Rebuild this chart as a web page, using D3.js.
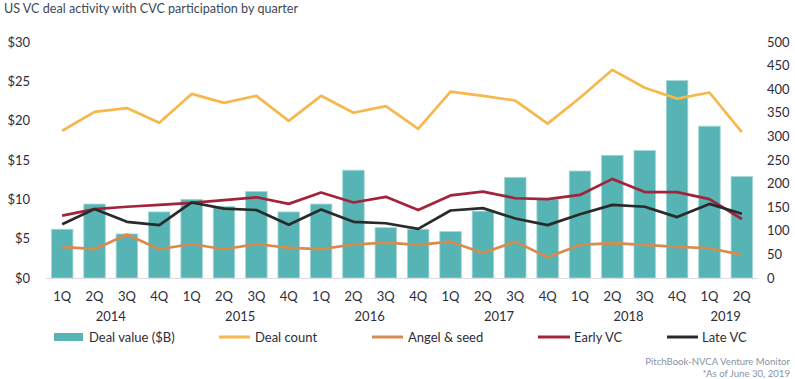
<!DOCTYPE html>
<html>
<head>
<meta charset="utf-8">
<script src="https://cdn.jsdelivr.net/npm/d3@7"></script>
<style>
  html, body { margin: 0; padding: 0; background: #fff; }
  svg { display: block; font-family: Lato, "Open Sans", sans-serif; }
</style>
</head>
<body>
<svg id="chart" width="795" height="379"></svg>
<script>
const quarters = ["1Q","2Q","3Q","4Q","1Q","2Q","3Q","4Q","1Q","2Q","3Q","4Q","1Q","2Q","3Q","4Q","1Q","2Q","3Q","4Q","1Q","2Q"];
const years = ["2014","2015","2016","2017","2018","2019"];
const yearQuarterCounts = [4,4,4,4,4,2];
const dealValue = [6.2,9.4,5.6,8.4,10.0,9.1,11.0,8.4,9.4,13.7,6.4,6.2,5.9,8.5,12.8,10.0,13.6,15.6,16.2,25.1,19.3,12.9];
const dealCount = [312,352,360,329,390,371,386,333,386,350,364,316,395,386,376,327,382,441,403,380,393,309];
const angelSeed = [66,61,92,61,72,61,72,64,61,71,75,70,77,53,77,44,70,74,70,66,63,49];
const earlyVC = [132,146,151,155,159,165,171,157,181,160,172,144,175,183,169,167,176,210,182,182,167,125];
const lateVC = [114,146,119,112,160,147,144,113,145,119,116,104,143,148,126,112,135,155,151,129,157,136];
const leftTicks = [0,5,10,15,20,25,30];
const rightTicks = [0,50,100,150,200,250,300,350,400,450,500];
const seriesNames = ["Deal value ($B)","Deal count","Angel & seed","Early VC","Late VC"];

(function () {
const colors = {
  bar: "#56b4b5", barStroke: "#a6d8d8",
  count: "#f6b84c", angel: "#d98a4f", early: "#a2233a", late: "#2a2a2a"
};

const svg = d3.select("#chart");
const pL = 46, pR = 758, pT = 42, pB = 278;

const x = d3.scaleBand().domain(d3.range(quarters.length)).range([pL, pR])
  .paddingInner(0.335).paddingOuter(0.1675);
const yL = d3.scaleLinear().domain([0, 30]).range([pB, pT]);
const yR = d3.scaleLinear().domain([0, 500]).range([pB, pT]);
const cx = i => x(i) + x.bandwidth() / 2;

// Title
svg.append("text").attr("x", 4).attr("y", 13)
  .attr("font-size", 13).attr("fill", "#3b4858")
  .attr("textLength", 294).attr("lengthAdjust", "spacingAndGlyphs")
  .text("US VC deal activity with CVC participation by quarter");

// Left axis
const axL = svg.append("g").attr("transform", `translate(${pL - 16},0)`)
  .call(d3.axisLeft(yL).tickValues(leftTicks).tickFormat(d => "$" + d).tickSize(0).tickPadding(0));
axL.select(".domain").remove();
axL.selectAll("text").attr("font-size", 13).attr("fill", "#2d2d3a").attr("font-family", "Lato, sans-serif");

// Right axis
const axR = svg.append("g").attr("transform", `translate(${pR + 9},0)`)
  .call(d3.axisRight(yR).tickValues(rightTicks).tickSize(0).tickPadding(0));
axR.select(".domain").remove();
axR.selectAll("text").attr("font-size", 13).attr("fill", "#2d2d3a").attr("font-family", "Lato, sans-serif");

// Bars
svg.append("g").selectAll("rect").data(dealValue).join("rect")
  .attr("x", (d, i) => x(i)).attr("width", x.bandwidth())
  .attr("y", d => yL(d)).attr("height", d => pB - yL(d))
  .attr("fill", colors.bar).attr("stroke", colors.barStroke).attr("stroke-width", 0.8);

// Baseline
svg.append("line").attr("x1", pL).attr("x2", pR).attr("y1", pB + 0.5).attr("y2", pB + 0.5)
  .attr("stroke", "#dcdce8").attr("stroke-width", 1);

// Lines
const lineGen = d3.line().x((d, i) => cx(i)).y(d => yR(d));
[[dealCount, colors.count], [angelSeed, colors.angel], [earlyVC, colors.early], [lateVC, colors.late]]
  .forEach(([data, c]) => {
    svg.append("path").datum(data).attr("d", lineGen)
      .attr("fill", "none").attr("stroke", c).attr("stroke-width", 2.7)
      .attr("stroke-linejoin", "round").attr("stroke-linecap", "butt");
  });

// Quarter labels
svg.append("g").selectAll("text").data(quarters).join("text")
  .attr("x", (d, i) => cx(i)).attr("y", 301).attr("text-anchor", "middle")
  .attr("font-size", 13).attr("fill", "#2d2d3a").text(d => d);

// Year labels
let start = 0;
years.forEach((yr, k) => {
  const n = yearQuarterCounts[k];
  const mid = (cx(start) + cx(start + n - 1)) / 2;
  svg.append("text").attr("x", mid).attr("y", 321).attr("text-anchor", "middle")
    .attr("font-size", 13).attr("fill", "#2d2d3a").text(yr);
  start += n;
});

// Legend
const legendY = 337;
const legendItems = [
  {name: seriesNames[0], type: "rect", color: colors.bar, x0: 54, x1: 83, tx: 89},
  {name: seriesNames[1], type: "line", color: colors.count, x0: 219, x1: 250, tx: 255},
  {name: seriesNames[2], type: "line", color: colors.angel, x0: 372, x1: 403, tx: 408},
  {name: seriesNames[3], type: "line", color: colors.early, x0: 538, x1: 570, tx: 574},
  {name: seriesNames[4], type: "line", color: colors.late, x0: 667, x1: 698, tx: 702}
];
const lg = svg.append("g");
legendItems.forEach(it => {
  if (it.type === "rect") {
    lg.append("rect").attr("x", it.x0).attr("y", legendY - 4).attr("width", it.x1 - it.x0).attr("height", 8)
      .attr("fill", it.color);
  } else {
    lg.append("line").attr("x1", it.x0).attr("x2", it.x1).attr("y1", legendY).attr("y2", legendY)
      .attr("stroke", it.color).attr("stroke-width", 3);
  }
  lg.append("text").attr("x", it.tx).attr("y", legendY + 4.5).attr("font-size", 13)
    .attr("fill", "#2d2d3a").text(it.name);
});

// Source notes
svg.append("text").attr("x", 790).attr("y", 365).attr("text-anchor", "end")
  .attr("font-size", 9.6).attr("fill", "#8a94a3")
  .text("PitchBook-NVCA Venture Monitor");
svg.append("text").attr("x", 790).attr("y", 377).attr("text-anchor", "end")
  .attr("font-size", 9.6).attr("fill", "#8a94a3")
  .text("*As of June 30, 2019");
})();
</script>
</body>
</html>
